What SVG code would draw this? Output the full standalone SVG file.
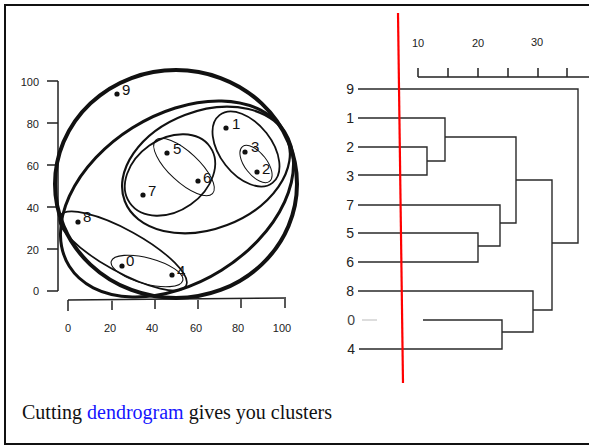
<svg xmlns="http://www.w3.org/2000/svg" width="589" height="446" viewBox="0 0 589 446">
<style>
.ax{stroke:#222;stroke-width:1.5;fill:none}
.tk{font-family:"Liberation Sans",Arial,sans-serif;font-size:11px;fill:#222}
.pl{font-family:"Liberation Sans",Arial,sans-serif;font-size:15px;fill:#111}
.dl{font-family:"Liberation Sans",Arial,sans-serif;font-size:14px;fill:#222}
.el{fill:none;stroke:#111}
.dn{stroke:#2a2a2a;stroke-width:1.4;fill:none}
.dot{fill:#111}
</style>
<rect x="0" y="0" width="589" height="446" fill="#fff"/>
<rect x="5" y="5" width="600" height="439" fill="none" stroke="#111" stroke-width="2"/>

<g id="scatter-axes">
  <path class="ax" d="M58 81 V291 M47 81 H58 M47 123 H58 M47 165 H58 M47 207 H58 M47 249 H58 M47 291 H58"/>
  <path class="ax" d="M68 300 L286 298 M68 300 V311 M112 300 V310 M155 299 V309 M198 299 V309 M241 298 V308 M285 298 V308"/>
  <g class="tk" text-anchor="end">
    <text x="39" y="86">100</text><text x="39" y="128">80</text><text x="39" y="170">60</text>
    <text x="39" y="212">40</text><text x="39" y="254">20</text><text x="39" y="295">0</text>
  </g>
  <g class="tk" text-anchor="middle">
    <text x="68" y="332">0</text><text x="110" y="332">20</text><text x="152" y="332">40</text>
    <text x="196" y="332">60</text><text x="238" y="332">80</text><text x="282" y="332">100</text>
  </g>
</g>

<g id="clusters">
  <ellipse class="el" cx="176" cy="184" rx="121" ry="114" stroke-width="4"/>
  <ellipse class="el" cx="177" cy="199" rx="127" ry="84" transform="rotate(-32 177 199)" stroke-width="3"/>
  <ellipse class="el" cx="206" cy="170" rx="87" ry="59" transform="rotate(-21 206 170)" stroke-width="2.2"/>
  <ellipse class="el" cx="170" cy="175" rx="49" ry="36" transform="rotate(-35 170 175)" stroke-width="1.8"/>
  <ellipse class="el" cx="184" cy="167" rx="39" ry="15" transform="rotate(43 184 167)" stroke-width="1" stroke="#444"/>
  <ellipse class="el" cx="246" cy="149" rx="43" ry="26" transform="rotate(52 246 149)" stroke-width="1.8"/>
  <ellipse class="el" cx="256" cy="164" rx="22" ry="11" transform="rotate(52 256 164)" stroke-width="1" stroke="#444"/>
  <ellipse class="el" cx="123" cy="251" rx="72" ry="21" transform="rotate(29 123 251)" stroke-width="1.7"/>
  <ellipse class="el" cx="147" cy="271" rx="37" ry="13" transform="rotate(15 147 271)" stroke-width="1.1" stroke="#444"/>
</g>

<g id="points">
  <g id="p9"><circle class="dot" cx="117" cy="94" r="2.6"/><text class="pl" x="122" y="95">9</text></g>
  <g id="p1"><circle class="dot" cx="226" cy="128" r="2.6"/><text class="pl" x="232" y="129">1</text></g>
  <g id="p3"><circle class="dot" cx="245" cy="152" r="2.6"/><text class="pl" x="251" y="152">3</text></g>
  <g id="p2"><circle class="dot" cx="257" cy="172" r="2.6"/><text class="pl" x="262" y="174">2</text></g>
  <g id="p5"><circle class="dot" cx="167" cy="153" r="2.6"/><text class="pl" x="173" y="154">5</text></g>
  <g id="p6"><circle class="dot" cx="198" cy="181" r="2.6"/><text class="pl" x="203" y="183">6</text></g>
  <g id="p7"><circle class="dot" cx="143" cy="195" r="2.6"/><text class="pl" x="148" y="196">7</text></g>
  <g id="p8"><circle class="dot" cx="78" cy="222" r="2.6"/><text class="pl" x="83" y="222">8</text></g>
  <g id="p0"><circle class="dot" cx="122" cy="266" r="2.6"/><text class="pl" x="126" y="266">0</text></g>
  <g id="p4"><circle class="dot" cx="172" cy="275" r="2.6"/><text class="pl" x="177" y="276">4</text></g>
</g>

<g id="dendro-axis">
  <path class="ax" d="M418 77 H589 M418 77 V68 M448 77 V68 M478 77 V68 M508 77 V68 M538 77 V68 M567 77 V68" stroke-width="1.4"/>
  <g class="tk" text-anchor="middle">
    <text x="418" y="47">10</text><text x="478" y="47">20</text><text x="537" y="46">30</text>
  </g>
</g>

<g id="leaves" class="dl" text-anchor="end">
  <text x="354" y="94">9</text>
  <text x="354" y="123">1</text>
  <text x="354" y="152">2</text>
  <text x="354" y="181">3</text>
  <text x="354" y="210">7</text>
  <text x="354" y="238">5</text>
  <text x="354" y="267">6</text>
  <text x="354" y="296">8</text>
  <text x="355" y="325" fill="#444">0</text>
  <text x="355" y="354">4</text>
</g>

<g id="connectors">
  <path class="dn" d="M358 89 H578 V243 H552"/>
  <path class="dn" d="M358 118 H445 V161 H427"/>
  <path class="dn" d="M358 147 H427 V175 H358"/>
  <path class="dn" d="M445 137 H516 V223 H500"/>
  <path class="dn" d="M516 180 H552 V310 H533"/>
  <path class="dn" d="M358 205 H500 V246 H478"/>
  <path class="dn" d="M358 233 H478 V262 H358"/>
  <path class="dn" d="M358 291 H533 V332 H502"/>
  <path class="dn" d="M423 320 H502 V349 H359"/>
  <path d="M362 320 H377" stroke="#bbb" stroke-width="1"/>
</g>

<g id="cut-line">
  <line x1="398" y1="13" x2="403" y2="383" stroke="#f00" stroke-width="2.2"/>
</g>

<g id="caption">
  <text x="22" y="419" font-family="'Liberation Serif','Times New Roman',serif" font-size="20" fill="#111">Cutting <tspan fill="#1515ff">dendrogram</tspan> gives you clusters</text>
</g>
</svg>
